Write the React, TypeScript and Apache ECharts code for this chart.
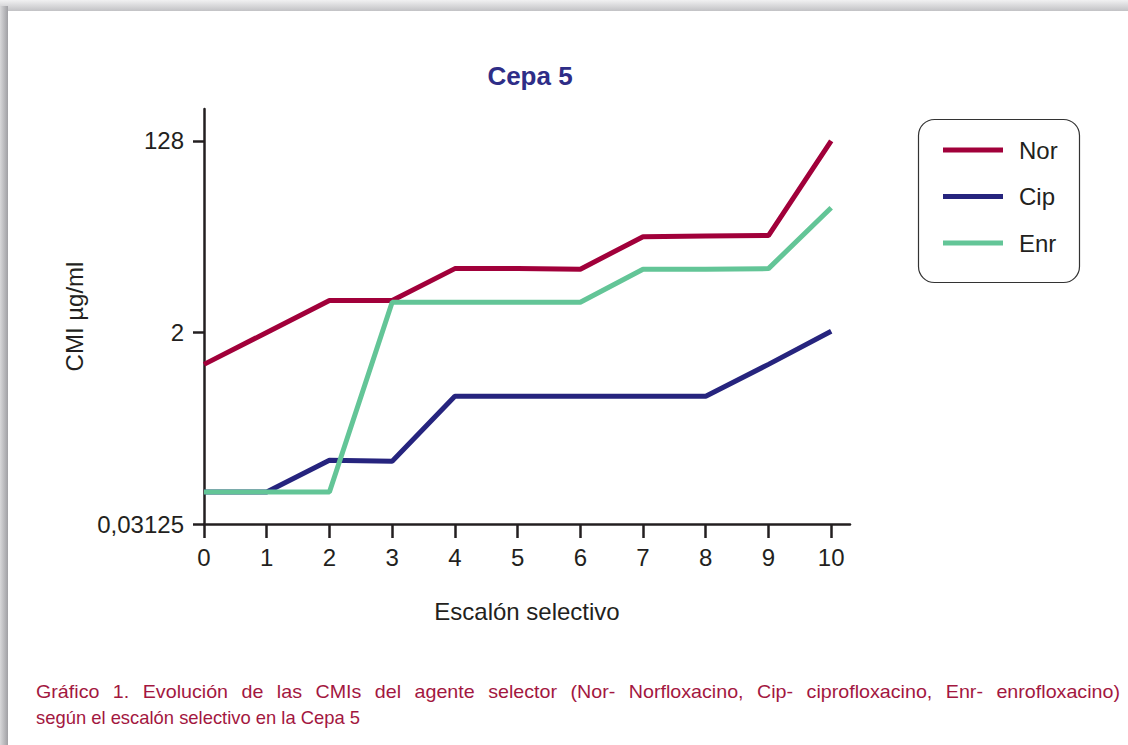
import React, { useEffect, useRef } from "react";
import * as echarts from "echarts";

const steps = [0, 1, 2, 3, 4, 5, 6, 7, 8, 9, 10];
const norValues = [1, 2, 4, 4, 8, 8, 7.9, 16, 16.2, 16.4, 128];
const cipValues = [0.0625, 0.0625, 0.125, 0.122, 0.5, 0.5, 0.5, 0.5, 0.5, 1, 2.05];
const enrValues = [0.0625, 0.0625, 0.0625, 3.85, 3.85, 3.85, 3.85, 7.9, 7.9, 8, 30];
const yTickValues = [0.03125, 2, 128];
const yTickLabels = ["0,03125", "2", "128"];
const xTicks = [0, 1, 2, 3, 4, 5, 6, 7, 8, 9, 10];
const seriesNames = ["Nor", "Cip", "Enr"];
const seriesColors = ["#a1003a", "#26247e", "#63c597"];

const titleText = "Cepa 5";
const xName = "Escalón selectivo";
const yName = "CMI µg/ml";
const captionLine1 =
  "Gráfico 1. Evolución de las CMIs del agente selector (Nor- Norfloxacino, Cip- ciprofloxacino, Enr- enrofloxacino)";
const captionLine2 = "según el escalón selectivo en la Cepa 5";

const FONT = "'Liberation Sans', Arial, sans-serif";
const AXIS_COLOR = "#231f20";
const CAPTION_COLOR = "#a3173f";
const CAP_SIZE = 18.4;
const CAP_STRETCH = 1.07;

export default function App() {
  const ref = useRef<HTMLDivElement>(null);

  useEffect(() => {
    if (!ref.current) return;
    const chart = echarts.init(ref.current, null, { renderer: "svg" });

    const toPairs = (vals: number[]) => steps.map((s, i) => [s, Math.log2(vals[i])]);
    const allValues = [norValues, cipValues, enrValues];

    // caption justification: measure words
    const canvas = document.createElement("canvas");
    const ctx = canvas.getContext("2d")!;
    ctx.font = `${CAP_SIZE}px ${FONT}`;
    const words = captionLine1.split(" ");
    const widths = words.map((w) => ctx.measureText(w).width * CAP_STRETCH);
    const capLeft = 36;
    const capRight = 1120;
    const total = widths.reduce((a, b) => a + b, 0);
    const gap = (capRight - capLeft - total) / (words.length - 1);
    let cx = capLeft;
    const captionWords: any[] = words.map((w, i) => {
      const el = {
        type: "text",
        x: cx,
        y: 692,
        scaleX: CAP_STRETCH,
        style: {
          text: w,
          fill: CAPTION_COLOR,
          fontSize: CAP_SIZE,
          fontFamily: FONT,
          verticalAlign: "middle",
          textVerticalAlign: "middle",
        },
      };
      cx += widths[i] + gap;
      return el;
    });

    const option: any = {
      animation: false,
      backgroundColor: "#ffffff",
      title: {
        text: titleText,
        left: 530,
        top: 63,
        padding: 0,
        textAlign: "center",
        textStyle: { fontFamily: FONT, fontSize: 26, fontWeight: "bold", color: "#2e2d87" },
      },
      legend: {
        orient: "vertical",
        left: 943,
        top: 137,
        padding: 0,
        icon: "rect",
        itemWidth: 60,
        itemHeight: 5,
        itemGap: 20.5,
        data: seriesNames,
        textStyle: {
          fontFamily: FONT,
          fontSize: 24,
          lineHeight: 26,
          color: AXIS_COLOR,
          padding: [0, 0, 0, 11],
        },
      },
      grid: { left: 204, right: 278, top: 109, bottom: 221 },
      xAxis: {
        type: "value",
        min: 0,
        max: 10.3,
        name: xName,
        nameLocation: "middle",
        nameGap: 75,
        nameTextStyle: { fontFamily: FONT, fontSize: 24, color: AXIS_COLOR },
        axisLine: { onZero: false, lineStyle: { color: AXIS_COLOR, width: 2.5 } },
        axisTick: { show: true, length: 14, customValues: xTicks, lineStyle: { color: AXIS_COLOR, width: 2.5 } },
        axisLabel: {
          customValues: xTicks,
          margin: 21,
          fontFamily: FONT,
          fontSize: 24,
          color: AXIS_COLOR,
          formatter: (v: number) => String(v),
        },
        splitLine: { show: false },
      },
      yAxis: {
        type: "value",
        min: -5,
        max: 8,
        name: yName,
        nameLocation: "middle",
        nameGap: 107,
        nameTextStyle: { fontFamily: FONT, fontSize: 24, color: AXIS_COLOR },
        axisLine: { show: true, onZero: false, lineStyle: { color: AXIS_COLOR, width: 2.5 } },
        axisTick: {
          show: true,
          length: 11,
          customValues: yTickValues.map((v) => Math.log2(v)),
          lineStyle: { color: AXIS_COLOR, width: 2.5 },
        },
        axisLabel: {
          customValues: yTickValues.map((v) => Math.log2(v)),
          margin: 20,
          fontFamily: FONT,
          fontSize: 24,
          color: AXIS_COLOR,
          formatter: (v: number) => {
            const idx = yTickValues.findIndex((t) => Math.abs(Math.log2(t) - v) < 1e-6);
            return idx >= 0 ? yTickLabels[idx] : "";
          },
        },
        splitLine: { show: false },
      },
      series: seriesNames.map((name, i) => ({
        name,
        type: "line",
        data: toPairs(allValues[i]),
        showSymbol: false,
        symbol: "none",
        lineStyle: { color: seriesColors[i], width: 5 },
        itemStyle: { color: seriesColors[i] },
      })),
      graphic: [
        {
          type: "rect",
          silent: true,
          shape: { x: 0, y: 0, width: 1128, height: 11 },
          style: {
            fill: new echarts.graphic.LinearGradient(0, 0, 0, 1, [
              { offset: 0, color: "#f1f1f2" },
              { offset: 1, color: "#c2c2c5" },
            ]),
          },
        },
        {
          type: "rect",
          silent: true,
          shape: { x: 0, y: 6, width: 8, height: 739 },
          style: {
            fill: new echarts.graphic.LinearGradient(0, 0, 1, 0, [
              { offset: 0, color: "#d8d8da" },
              { offset: 1, color: "#a0a0a4" },
            ]),
          },
        },
        {
          type: "rect",
          silent: true,
          shape: { x: 918.5, y: 119.5, width: 161, height: 163, r: 16 },
          style: { fill: "none", stroke: "#333333", lineWidth: 1.2 },
        },
        ...captionWords,
        {
          type: "text",
          x: capLeft,
          y: 717,
          style: {
            text: captionLine2,
            fill: CAPTION_COLOR,
            fontSize: CAP_SIZE,
            fontFamily: FONT,
            verticalAlign: "middle",
            textVerticalAlign: "middle",
          },
        },
      ],
    };

    chart.setOption(option);
    return () => chart.dispose();
  }, []);

  return (
    <div
      ref={ref}
      style={{ position: "fixed", left: 0, top: 0, width: 1128, height: 745, background: "#ffffff" }}
    />
  );
}
